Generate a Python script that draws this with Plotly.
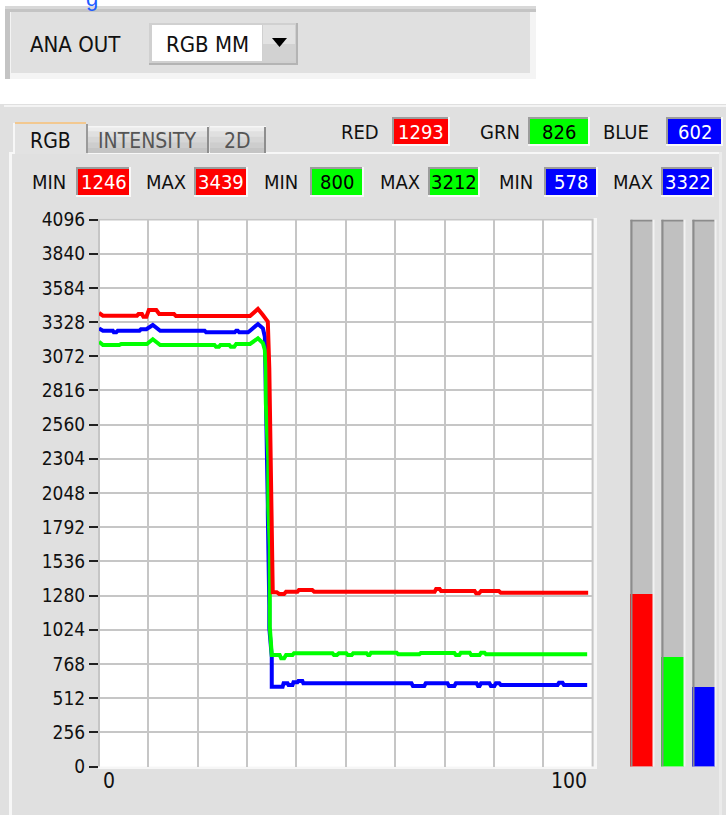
import plotly.graph_objects as go

W, H = 726, 815
NARROW = "Liberation Sans Narrow, Arial Narrow, DejaVu Sans Condensed, sans-serif"

# ---------------- data ----------------
red_x = [0, 0.8, 7.7, 8.0, 8.7, 9.0, 9.6, 10.1, 11.6, 12.2,
         15.2, 15.6, 30.6, 31.4, 32.2, 33.2, 34.2, 34.5, 34.8, 34.9,
         35.2, 36.0, 36.5, 37.5, 37.9, 40.2, 40.5, 43.2, 43.6, 68.0,
         68.3, 69.0, 69.3, 76.1, 76.4, 77.0, 77.4, 81.0, 81.4, 99.1]
red_v = [3396, 3376, 3376, 3388, 3388, 3368, 3368, 3418, 3418, 3388,
         3388, 3373, 3373, 3403, 3426, 3381, 3331, 2984, 2295, 1646,
         1305, 1305, 1292, 1292, 1309, 1309, 1322, 1322, 1309, 1309,
         1329, 1329, 1314, 1314, 1297, 1297, 1314, 1314, 1301, 1301]

grn_x = [0, 0.8, 4.1, 4.5, 9.7, 10.9, 12.4, 23.4, 23.7, 24.3,
         24.6, 26.4, 26.7, 27.4, 27.8, 30.6, 32.2, 33.2, 33.6, 33.8,
         33.8, 34.3, 34.3, 34.6, 34.6, 35.0, 36.6, 36.9, 37.5, 37.9,
         39.2, 39.5, 47.3, 47.6, 48.2, 48.6, 50.1, 50.4, 51.2, 51.5,
         54.2, 54.5, 54.8, 55.1, 60.3, 60.6, 64.9, 65.2, 72.0, 72.3,
         73.0, 73.3, 75.1, 75.4, 77.1, 77.4, 78.1, 78.4, 98.9]
grn_v = [3181, 3156, 3156, 3164, 3164, 3199, 3156, 3156, 3143, 3143,
         3156, 3156, 3143, 3143, 3164, 3164, 3206, 3171, 3119, 2969,
         2722, 2295, 1945, 1646, 1047, 835, 835, 810, 810, 835,
         835, 848, 848, 835, 835, 848, 848, 835, 835, 848,
         848, 835, 835, 852, 852, 840, 840, 850, 850, 835,
         835, 852, 852, 835, 835, 852, 852, 840, 840]

blu_x = [0, 0.8, 2.8, 3.0, 3.5, 3.8, 8.2, 8.5, 9.6, 10.9,
         12.4, 21.4, 21.7, 27.5, 27.8, 28.1, 28.4, 30.2, 30.6, 32.2,
         33.2, 33.6, 34.2, 34.2, 34.5, 34.5, 35.0, 35.0, 37.2, 37.4,
         38.2, 38.4, 39.2, 39.4, 40.2, 40.4, 41.2, 41.4, 63.3, 63.6,
         65.9, 66.2, 70.6, 70.9, 72.0, 72.3, 76.5, 76.8, 77.1, 77.4,
         79.1, 79.4, 80.1, 80.4, 81.1, 81.4, 92.9, 93.2, 93.9, 94.2,
         98.9]
blu_v = [3281, 3263, 3263, 3251, 3251, 3263, 3263, 3274, 3274, 3306,
         3263, 3263, 3251, 3251, 3263, 3263, 3251, 3251, 3263, 3313,
         3281, 3218, 1958, 1896, 1209, 1037, 822, 598, 598, 623,
         623, 610, 610, 630, 630, 640, 640, 623, 623, 603,
         603, 623, 623, 603, 603, 623, 623, 603, 603, 623,
         623, 603, 603, 623, 623, 610, 610, 628, 628, 610,
         610]

channel_names = ["RED", "GRN", "BLUE"]
channel_colors = ["#ff0000", "#00ff00", "#0000ff"]
channel_text = ["white", "black", "white"]
current_vals = [1293, 826, 602]
min_vals = [1246, 800, 578]
max_vals = [3439, 3212, 3322]
y_ticks = [0, 256, 512, 768, 1024, 1280, 1536, 1792, 2048, 2304,
           2560, 2816, 3072, 3328, 3584, 3840, 4096]
x_tick_labels = [0, 100]
tab_names = ["RGB", "INTENSITY", "2D"]

# ---------------- helpers ----------------
def px(x):
    return x / W


def py(y):
    return 1 - y / H


shapes = []
annotations = []


def rect(x0, y0, x1, y1, fill, layer="below"):
    shapes.append(dict(type="rect", xref="paper", yref="paper",
                       x0=px(x0), x1=px(x1), y0=py(y1), y1=py(y0),
                       fillcolor=fill, line=dict(width=0), layer=layer))


def label(x, y, text, size=20, color="#111111", family=NARROW, xanchor="center"):
    annotations.append(dict(xref="paper", yref="paper", x=px(x), y=py(y),
                            text=text, showarrow=False, xanchor=xanchor,
                            yanchor="middle",
                            font=dict(family=family, size=size, color=color)))


def sunken_box(x0, y0, x1, y1, fill):
    rect(x0 - 2, y0 - 2, x1 + 2, y1 + 2, "#f8f8f8")
    rect(x0 - 2, y0 - 2, x1, y1, "#9c9c9c")
    rect(x0, y0, x1, y1, fill)


# ---------------- top group "ANA OUT" ----------------
rect(5, 6, 536, 79, "#c4c4c4")
rect(5, 6, 536, 9, "#d8d8d8")
rect(10, 12, 536, 79, "#f4f4f4")
rect(11, 12, 530, 73, "#e0e0e0")
label(75, 44, "ANA OUT", size=22)
# dropdown
rect(149, 23, 298, 65, "#b4b4b4")
rect(149, 23, 296, 63, "#d0d0d0")
rect(152, 25, 262, 61, "#ffffff")
rect(263, 25, 295, 61, "#e2e2e2")
rect(263, 44, 295, 61, "#d2d2d2")
shapes.append(dict(type="path", xref="paper", yref="paper",
                   path=f"M {px(272)},{py(38)} L {px(287)},{py(38)} L {px(279.5)},{py(47)} Z",
                   fillcolor="#000000", line=dict(width=0), layer="above"))
label(207, 44, "RGB MM", size=22)

# cut-off blue link text at very top (only its descender is in view, as in the reference)
annotations.append(dict(xref="paper", yref="paper", x=px(92), y=py(13),
                        text="g", showarrow=False, xanchor="center", yanchor="bottom",
                        font=dict(family="Liberation Sans, Arial, sans-serif", size=22,
                                  color="#1e5cff")))

# ---------------- lower tab panel ----------------
rect(0, 104, 726, 815, "#e0e0e0")
rect(4, 105, 726, 107, "#f4f4f4")
rect(9, 152, 13, 154, "#f7f7f7")
rect(88, 152, 722, 154, "#f7f7f7")
rect(9, 152, 12, 815, "#f7f7f7")
rect(719, 152, 722, 815, "#ebebeb")
# RGB tab (active)
rect(13, 122, 88, 154, "#e2e2e2")
rect(13, 123, 15, 154, "#f7f7f7")
rect(15, 122, 86, 124, "#f2c890")
rect(86, 124, 88, 153, "#9a9a9a")
# inactive tabs
for (tx0, tx1) in [(88, 209), (210, 266)]:
    bands = ["#ececec", "#e0e0e0", "#d6d6d6", "#cdcdcd", "#c4c4c4"]
    for k, c in enumerate(bands):
        rect(tx0, 126 + k * 5.4, tx1, 126 + (k + 1) * 5.4, c)
    rect(tx0, 126, tx1, 127.5, "#f6f6f6")
    rect(tx1 - 2, 127, tx1, 153, "#8e8e8e")
label(50, 141, tab_names[0], size=21, color="#111111")
label(147, 141, tab_names[1], size=21, color="#555555")
label(237, 141, tab_names[2], size=21, color="#555555")

# current value row
row1_lbl_x = [360, 500, 626]
row1_box = [(394, 448), (530, 588), (668, 721)]
for i in range(3):
    label(row1_lbl_x[i], 132, channel_names[i], size=20)
    bx0, bx1 = row1_box[i]
    sunken_box(bx0, 119, bx1, 144, channel_colors[i])
    label((bx0 + bx1) / 2, 132, str(current_vals[i]), size=20, color=channel_text[i])

# min / max row
min_lbl_x = [49, 281, 516]
max_lbl_x = [166, 400, 633]
min_box = [(78, 129), (312, 362), (546, 596)]
max_box = [(196, 246), (430, 478), (663, 712)]
for i in range(3):
    label(min_lbl_x[i], 182, "MIN", size=20)
    label(max_lbl_x[i], 182, "MAX", size=20)
    bx0, bx1 = min_box[i]
    sunken_box(bx0, 169, bx1, 195, channel_colors[i])
    label((bx0 + bx1) / 2, 182, str(min_vals[i]), size=20, color=channel_text[i])
    bx0, bx1 = max_box[i]
    sunken_box(bx0, 169, bx1, 195, channel_colors[i])
    label((bx0 + bx1) / 2, 182, str(max_vals[i]), size=20, color=channel_text[i])

# plot area background
rect(98, 218, 597, 769, "#f6f6f6")
rect(99, 219.5, 592.6, 766.5, "#ffffff")

# ---------------- figure ----------------
fig = go.Figure()
for xs, ys, col in [(blu_x, blu_v, channel_colors[2]),
                    (grn_x, grn_v, channel_colors[1]),
                    (red_x, red_v, channel_colors[0])]:
    fig.add_trace(go.Scatter(x=xs, y=ys, mode="lines",
                             line=dict(color=col, width=4),
                             xaxis="x", yaxis="y", hoverinfo="skip",
                             showlegend=False))

fig.add_trace(go.Bar(x=[0, 1, 2], y=[4096] * 3, width=0.71,
                     marker=dict(color="#c0c0c0", line=dict(width=0)),
                     xaxis="x2", yaxis="y2", hoverinfo="skip", showlegend=False))
fig.add_trace(go.Bar(x=[0, 1, 2], y=current_vals, width=0.71,
                     marker=dict(color=channel_colors, line=dict(width=0)),
                     xaxis="x2", yaxis="y2", hoverinfo="skip", showlegend=False))

for i in range(3):
    shapes.append(dict(type="rect", xref="x2", yref="y2", xsizemode="pixel",
                       xanchor=i - 0.355, x0=0, x1=2, y0=0, y1=4096,
                       fillcolor="#8c8c8c", line=dict(width=0), layer="above"))
    shapes.append(dict(type="rect", xref="x2", yref="y2", ysizemode="pixel",
                       yanchor=4096, y0=-2, y1=0, x0=i - 0.355, x1=i + 0.355,
                       fillcolor="#8c8c8c", line=dict(width=0), layer="above"))
    shapes.append(dict(type="rect", xref="x2", yref="y2", xsizemode="pixel",
                       xanchor=i + 0.355, x0=0, x1=2, y0=0, y1=4096,
                       fillcolor="#f2f2f2", line=dict(width=0), layer="above"))
    shapes.append(dict(type="rect", xref="x2", yref="y2", ysizemode="pixel",
                       yanchor=0, y0=-2, y1=0, x0=i - 0.355, x1=i + 0.355 + 0.06,
                       fillcolor="#f2f2f2", line=dict(width=0), layer="above"))

# plot frame (left, top, right in grey; bottom edge is light in the reference)
shapes.append(dict(type="path", xref="x domain", yref="y domain",
                   path="M 0,0 L 0,1 L 1,1 L 1,0",
                   line=dict(color="#c6c6c6", width=2), layer="below"))

for v in x_tick_labels:
    annotations.append(dict(xref="x", yref="paper", x=v, y=py(781), text=str(v),
                            showarrow=False, yanchor="middle",
                            xanchor="left" if v == x_tick_labels[0] else "right",
                            xshift=2 if v == x_tick_labels[0] else -4,
                            font=dict(family=NARROW, size=21, color="#111111")))

fig.update_layout(
    width=W, height=H,
    margin=dict(l=0, r=0, t=0, b=0, autoexpand=False),
    paper_bgcolor="#ffffff",
    plot_bgcolor="rgba(0,0,0,0)",
    barmode="overlay", bargap=0,
    showlegend=False,
    xaxis=dict(domain=[99 / W, 592.6 / W], range=[0, 100], dtick=10,
               showgrid=True, gridcolor="#c6c6c6", gridwidth=2,
               showticklabels=False, ticks="", zeroline=False, showline=False,
               fixedrange=True),
    yaxis=dict(domain=[py(766.5), py(219.5)], range=[0, 4096],
               tickmode="array", tickvals=y_ticks, ticktext=[str(t) for t in y_ticks],
               showgrid=True, gridcolor="#c6c6c6", gridwidth=2,
               ticks="outside", ticklen=9, tickwidth=2, tickcolor="#222222",
               tickfont=dict(family=NARROW, size=19, color="#111111"),
               zeroline=False, showline=False, fixedrange=True),
    xaxis2=dict(domain=[626 / W, 719 / W], range=[-0.5, 2.5], visible=False,
                anchor="y2", fixedrange=True),
    yaxis2=dict(domain=[py(766.5), py(219.5)], range=[0, 4096], visible=False,
                anchor="x2", fixedrange=True),
    shapes=shapes,
    annotations=annotations,
)

fig.write_html("out.html",
               config={"displayModeBar": False},
               post_script="document.body.style.margin='0px';document.body.style.overflow='hidden';")
